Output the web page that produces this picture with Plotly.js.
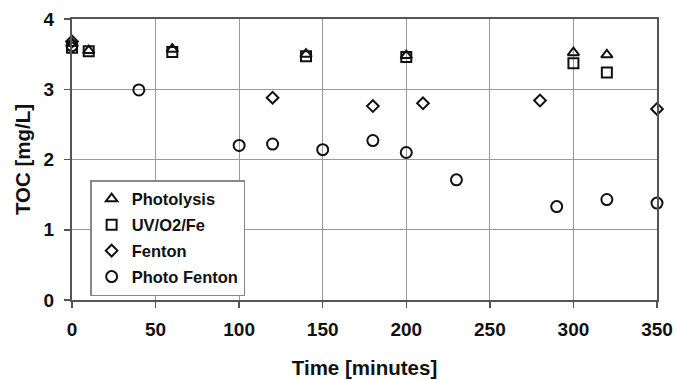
<!DOCTYPE html>
<html>
<head>
<meta charset="utf-8">
<script src="https://cdn.plot.ly/plotly-3.0.1.min.js"></script>
<style>html,body{margin:0;padding:0;background:#fff;}#chart{width:676px;height:380px;}</style>
</head>
<body>
<div id="chart"></div>
<script>
// Data
const photolysisTime = [0, 10, 60, 140, 200, 300, 320];
const photolysisTOC  = [3.65, 3.55, 3.57, 3.50, 3.48, 3.52, 3.49];

const uvTime = [0, 10, 60, 140, 200, 300, 320];
const uvTOC  = [3.59, 3.54, 3.53, 3.47, 3.46, 3.37, 3.24];

const fentonTime = [0, 120, 180, 210, 280, 350];
const fentonTOC  = [3.68, 2.88, 2.76, 2.80, 2.84, 2.72];

const photoFentonTime = [0, 40, 100, 120, 150, 180, 200, 230, 290, 320, 350];
const photoFentonTOC  = [3.62, 2.99, 2.20, 2.22, 2.14, 2.27, 2.10, 1.71, 1.33, 1.43, 1.38];

const seriesNames = ["Photolysis", "UV/O2/Fe", "Fenton", "Photo Fenton"];
const xTicks = [0, 50, 100, 150, 200, 250, 300, 350];
const yTicks = [0, 1, 2, 3, 4];

const FONT = "Liberation Sans, Arial, Helvetica, sans-serif";
const lineCol = "#111";

function tr(x, y, name, symbol, size) {
  return {
    x: x, y: y, name: name, legendgroup: name, type: "scatter", mode: "markers",
    marker: {symbol: symbol, size: size, color: lineCol,
             line: {color: lineCol, width: 2}},
    cliponaxis: false
  };
}

const data = [
  tr(photolysisTime, photolysisTOC, seriesNames[0], "triangle-up-open", 10),
  tr(uvTime, uvTOC, seriesNames[1], "square-open", 10),
  tr(fentonTime, fentonTOC, seriesNames[2], "diamond-open", 9),
  tr(photoFentonTime, photoFentonTOC, seriesNames[3], "circle-open", 11)
];

const tickFont = {family: FONT, size: 19, color: "#111", weight: "bold"};
const titleFont = {family: FONT, size: 20.5, color: "#111", weight: "bold"};

const layout = {
  width: 676, height: 380,
  margin: {l: 72, r: 19, t: 19, b: 80},
  paper_bgcolor: "#fff", plot_bgcolor: "#fff",
  font: {family: FONT, color: "#111", size: 17, weight: "bold"},
  showlegend: true,
  legend: {
    x: 0.031, y: 0.427, xanchor: "left", yanchor: "top",
    bgcolor: "#fff", bordercolor: "#888", borderwidth: 1.5,
    font: {family: FONT, size: 16.5, color: "#111", weight: "bold"},
    itemwidth: 30, traceorder: "grouped", tracegroupgap: 1.5
  },
  xaxis: {
    range: [0, 350], tickvals: xTicks, ticktext: xTicks.map(String),
    showgrid: true, gridcolor: "#999", gridwidth: 1,
    showline: true, linecolor: "#555", linewidth: 2, mirror: true,
    ticks: "outside", ticklen: 6, tickwidth: 1.5, tickcolor: "#555",
    ticklabelstandoff: 5,
    tickfont: tickFont,
    zeroline: false,
    title: {text: "Time [minutes]", standoff: 22, font: titleFont}
  },
  yaxis: {
    range: [0, 4], tickvals: yTicks, ticktext: yTicks.map(String),
    showgrid: true, gridcolor: "#999", gridwidth: 1,
    showline: true, linecolor: "#555", linewidth: 2, mirror: true,
    ticks: "outside", ticklen: 6, tickwidth: 1.5, tickcolor: "#555",
    ticklabelstandoff: 6,
    tickfont: tickFont,
    zeroline: false,
    title: {text: "TOC [mg/L]", standoff: 7, font: titleFont}
  }
};

Plotly.newPlot("chart", data, layout, {displayModeBar: false, staticPlot: true});
</script>
</body>
</html>
